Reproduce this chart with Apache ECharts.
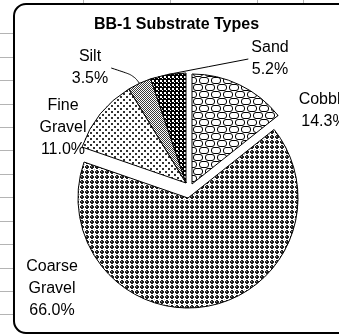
<!DOCTYPE html>
<html>
<head>
<meta charset="utf-8">
<script src="https://cdn.jsdelivr.net/npm/echarts@6/dist/echarts.min.js"></script>
<style>
  html, body { margin: 0; padding: 0; background: #fff; }
  #chart { width: 339px; height: 335px; }
</style>
</head>
<body>
<div id="chart"></div>
<script>
// Substrate composition, listed clockwise from 12 o'clock
const categories = ['Cobble', 'Coarse Gravel', 'Fine Gravel', 'Silt', 'Sand'];
const shares = [14.3, 66.0, 11.0, 3.5, 5.2];
const chartTitle = 'BB-1 Substrate Types';

// ---- fill patterns -------------------------------------------------------
function tile(w, h, draw) {
  const c = document.createElement('canvas');
  c.width = w; c.height = h;
  const g = c.getContext('2d');
  g.imageSmoothingEnabled = false;
  g.fillStyle = '#fff';
  g.fillRect(0, 0, w, h);
  draw(g);
  return { image: c, repeat: 'repeat' };
}
function roundRect(g, x, y, w, h, r) {
  g.beginPath();
  g.moveTo(x + r, y);
  g.lineTo(x + w - r, y);
  g.quadraticCurveTo(x + w, y, x + w, y + r);
  g.lineTo(x + w, y + h - r);
  g.quadraticCurveTo(x + w, y + h, x + w - r, y + h);
  g.lineTo(x + r, y + h);
  g.quadraticCurveTo(x, y + h, x, y + h - r);
  g.lineTo(x, y + r);
  g.quadraticCurveTo(x, y, x + r, y);
  g.stroke();
}
const patterns = {
  // cobblestone outlines
  'Cobble': tile(12, 14, g => {
    g.strokeStyle = '#000'; g.lineWidth = 1;
    roundRect(g, 1.5, 0.5, 9, 6, 2.5);
    roundRect(g, -4.5, 7.5, 9, 6, 2.5);
    roundRect(g, 7.5, 7.5, 9, 6, 2.5);
  }),
  // shaded pebbles
  'Coarse Gravel': tile(5, 5, g => {
    g.fillStyle = '#1e1e1e';
    g.fillRect(1, 0, 2, 1);
    g.fillRect(0, 1, 4, 2);
    g.fillRect(1, 3, 2, 1);
    g.fillStyle = '#7a7a7a';
    g.fillRect(1, 1, 1, 1);
    g.fillStyle = '#bbb';
    g.fillRect(4, 4, 1, 1);
  }),
  // sparse dots
  'Fine Gravel': tile(6, 6, g => {
    g.fillStyle = '#333';
    g.fillRect(0, 0, 2, 2);
    g.fillRect(3, 3, 2, 2);
  }),
  // fine grey stipple
  'Silt': tile(2, 2, g => {
    g.fillStyle = '#3a3a3a';
    g.fillRect(0, 0, 1, 1);
    g.fillRect(1, 1, 1, 1);
  }),
  // dark checker
  'Sand': tile(4, 4, g => {
    g.fillStyle = '#000';
    g.fillRect(0, 0, 4, 4);
    g.fillStyle = '#fff';
    g.fillRect(0, 0, 2, 2);
    g.fillRect(2, 2, 1, 1);
  })
};

// ---- label placement (layout only) ---------------------------------------
const labelSpot = {
  'Sand':          { x: 270, y: 59,  line: 'left' },
  'Cobble':        { x: 324, y: 111 },
  'Coarse Gravel': { x: 52,  y: 289 },
  'Fine Gravel':   { x: 63,  y: 128 },
  'Silt':          { x: 90,  y: 68,  line: 'right' }
};
function labelLayout(p) {
  const name = categories[p.dataIndex];
  const s = labelSpot[name];
  const out = { x: s.x, y: s.y, align: 'center', verticalAlign: 'middle' };
  if (s.line && p.labelLinePoints) {
    const start = p.labelLinePoints[0];
    const half = p.labelRect.width / 2;
    const end = s.line === 'left' ? [s.x - half - 3, s.y] : [s.x + half + 3, s.y];
    const mid = s.line === 'left'
      ? [start[0] + (end[0] - start[0]) * 0.5, start[1] + (end[1] - start[1]) * 0.5]
      : [start[0] - 6, start[1] - 8];
    out.labelLinePoints = [start, mid, end];
  }
  return out;
}

// one pie layer per exploded group; hidden slices keep angles in place
function pieLayer(center, shown) {
  return {
    type: 'pie',
    center: center,
    radius: 110,
    startAngle: 90,
    clockwise: true,
    avoidLabelOverlap: false,
    animation: false,
    silent: true,
    emphasis: { disabled: true },
    labelLayout: labelLayout,
    data: categories.map((name, i) => {
      const vis = shown.includes(name);
      return {
        name: name,
        value: shares[i],
        itemStyle: vis
          ? { color: patterns[name], borderColor: '#000', borderWidth: 1 }
          : { color: 'rgba(0,0,0,0)', borderWidth: 0 },
        label: {
          show: vis,
          position: 'outside',
          formatter: p => p.name.replace(' ', '\n') + '\n' + p.percent.toFixed(1) + '%',
          fontFamily: 'Liberation Sans, Arial, sans-serif',
          fontSize: 16,
          lineHeight: 22,
          color: '#000'
        },
        labelLine: {
          show: vis && !!labelSpot[name].line,
          lineStyle: { color: '#000', width: 1 },
          smooth: labelSpot[name].line === 'right' ? 0.4 : false
        }
      };
    })
  };
}

// spreadsheet grid behind the chart object
const gridLines = [];
[33, 57, 80, 104, 127, 150, 174, 197, 221, 244, 268, 291, 314].forEach(y => {
  gridLines.push({ type: 'line', shape: { x1: 0, y1: y + 0.5, x2: 14, y2: y + 0.5 },
    style: { stroke: '#b4b4b4', lineWidth: 1 }, silent: true, z: -10 });
});
[83, 170, 257, 303].forEach(x => {
  gridLines.push({ type: 'line', shape: { x1: x + 0.5, y1: 0, x2: x + 0.5, y2: 5 },
    style: { stroke: '#b4b4b4', lineWidth: 1 }, silent: true, z: -10 });
});

const chart = echarts.init(document.getElementById('chart'), null, { renderer: 'canvas' });
chart.setOption({
  backgroundColor: '#fff',
  animation: false,
  title: {
    text: chartTitle,
    left: 94,
    top: 17,
    padding: 0,
    textStyle: {
      fontFamily: 'Liberation Sans, Arial, sans-serif',
      fontSize: 16,
      fontWeight: 'bold',
      color: '#000'
    }
  },
  graphic: gridLines.concat([{
    type: 'rect',
    shape: { x: 14, y: 4, width: 340, height: 329, r: 12 },
    style: { fill: '#fff', stroke: '#000', lineWidth: 2 },
    silent: true,
    z: -5
  }]),
  series: [
    pieLayer([186, 183], ['Fine Gravel', 'Silt', 'Sand']),
    pieLayer([192, 184], ['Cobble']),
    pieLayer([188, 198], ['Coarse Gravel'])
  ]
});
</script>
</body>
</html>
